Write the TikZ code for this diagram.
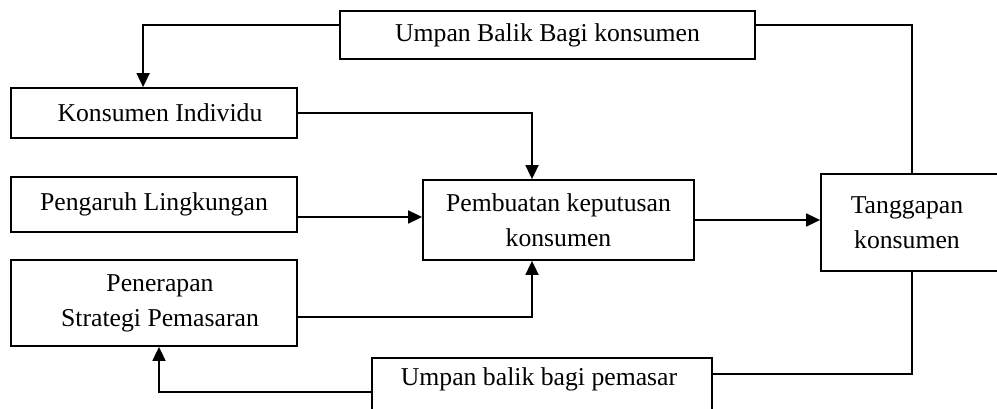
\documentclass[tikz,border=0pt]{standalone}
\usepackage{fontspec}
\setmainfont{Liberation Serif}
\usetikzlibrary{arrows.meta}
\begin{document}
\begin{tikzpicture}[x=1pt,y=-1pt,
  box/.style={draw,line width=1.8pt,rectangle,inner sep=0pt,align=center,
    font=\fontsize{25.7}{35}\selectfont},
  lbl/.style={inner sep=0pt,font=\fontsize{25.7}{35}\selectfont},
  conn/.style={line width=1.8pt},
  arr/.style={line width=1.8pt,-{Triangle[length=14pt,width=13pt]}}]
\useasboundingbox (0,0) rectangle (997,409);
\clip (0,0) rectangle (997,409);
% boxes
\node[box,minimum width=415pt,minimum height=48pt] (umpanK) at (547.5,35) {Umpan Balik Bagi konsumen};
\node[box,minimum width=286pt,minimum height=50pt] (ki) at (154,113) {\hspace*{12pt}Konsumen Individu};
\node[box,minimum width=286pt,minimum height=55pt] (pl) at (154,204.5) {Pengaruh Lingkungan};
\node[box,minimum width=286pt,minimum height=86pt] (ps) at (154,303) {\hspace*{12pt}Penerapan\\\hspace*{12pt}Strategi Pemasaran};
\node[box,minimum width=271pt,minimum height=80pt] (pk) at (558.5,220) {Pembuatan keputusan\\konsumen};
\node[box,minimum width=180pt,minimum height=97pt] (tk) at (911,222.5) {Tanggapan\hspace*{8pt}\\konsumen\hspace*{8pt}};
\node[box,minimum width=340pt,minimum height=62pt] (umpanP) at (542,389) {};
\node[lbl,anchor=base] (umpanPt) at (539,385) {Umpan balik bagi pemasar};
% helper points
\coordinate (a1) at ([yshift=-15pt]umpanK.north west);
\coordinate (a2) at ([yshift=-15pt]umpanK.north east);
\coordinate (p1) at ([yshift=-12.5pt]pl.east);
\coordinate (p2) at ([yshift=-14pt]ps.east);
\coordinate (p3) at ([yshift=-17pt]umpanP.north east);
\coordinate (p4) at ([yshift=-35pt]umpanP.north west);
% connectors
\draw[arr] (a1) -| ([xshift=133pt]ki.north west);
\draw[conn] (a2) -| ([xshift=92pt]tk.north west);
\draw[arr] (ki.east) -| ([xshift=-26.5pt]pk.north);
\draw[arr] (p1) -- (p1 -| pk.west);
\draw[arr] (pk.east) -- (pk.east -| tk.west);
\draw[arr] (p2) -| ([xshift=-26.5pt]pk.south);
\draw[conn] ([xshift=92pt]tk.south west) |- (p3);
\draw[arr] (p4) -| ([xshift=5pt]ps.south);
\end{tikzpicture}
\end{document}
